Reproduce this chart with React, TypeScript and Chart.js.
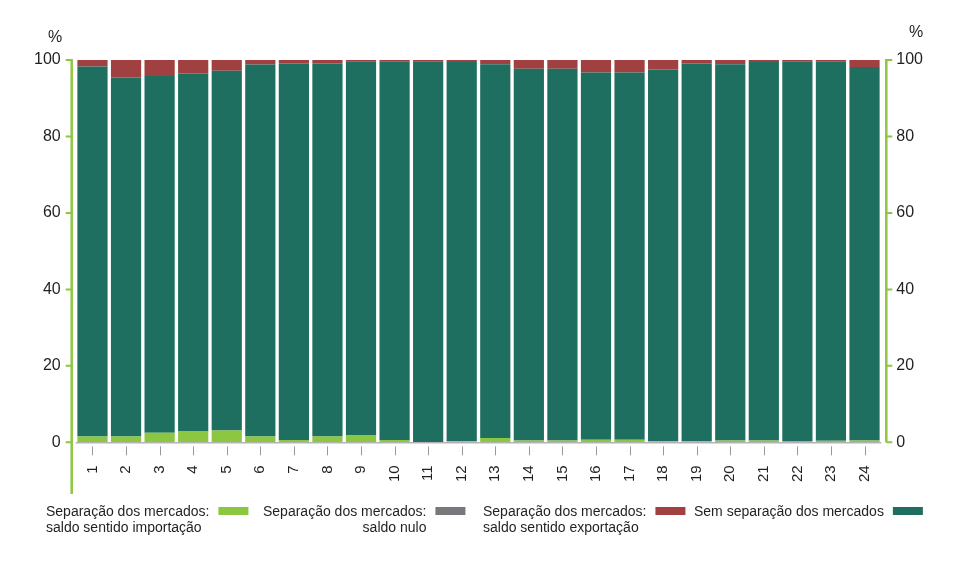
import React, { useEffect, useRef } from "react";
import { Chart, registerables } from "chart.js";
Chart.register(...registerables);

const categories = ["1","2","3","4","5","6","7","8","9","10","11","12","13","14","15","16","17","18","19","20","21","22","23","24"];
const importacao = [1.5,1.5,2.5,2.8,3.1,1.5,0.6,1.5,1.8,0.6,0,0.3,1.1,0.5,0.5,0.7,0.7,0.3,0.3,0.5,0.5,0.2,0.4,0.5];
const nulo = [0,0,0,0,0,0,0,0,0,0,0,0,0,0,0,0,0,0,0,0,0,0,0,0];
const semSeparacao = [96.8,93.9,93.3,93.7,94.1,97.3,98.5,97.6,97.9,99.1,99.7,99.2,97.8,97.2,97.2,96.0,96.0,97.2,98.8,98.4,99.0,99.5,99.3,97.7];
const exportacao = [1.7,4.6,4.2,3.5,2.8,1.2,0.9,0.9,0.3,0.3,0.3,0.5,1.1,2.3,2.3,3.3,3.3,2.5,0.9,1.1,0.5,0.3,0.3,1.8];
const yTicks = [0, 20, 40, 60, 80, 100];

const legendItems = [
  { lines: ["Separação dos mercados:", "saldo sentido importação"], align2: "left", color: "#8dc641" },
  { lines: ["Separação dos mercados:", "saldo nulo"], align2: "right", color: "#77787b" },
  { lines: ["Separação dos mercados:", "saldo sentido exportação"], align2: "left", color: "#a04040" },
  { lines: ["Sem separação dos mercados"], align2: "left", color: "#1f6f61" },
];

const FONT = "'Liberation Sans', Arial, sans-serif";
const TEXT = "#231f20";
const AXIS_GREEN = "#8dc63f";

export default function App() {
  const ref = useRef<HTMLCanvasElement | null>(null);
  useEffect(() => {
    if (!ref.current) return;
    const decor = {
      id: "decor",
      afterDatasetsDraw(chart: any) {
        const ctx = chart.ctx;
        const x = chart.scales.x;
        const y = chart.scales.y;
        const area = chart.chartArea;
        ctx.save();
        // baseline
        ctx.strokeStyle = "#b3b3b3";
        ctx.lineWidth = 1.5;
        ctx.beginPath();
        ctx.moveTo(area.left, y.getPixelForValue(0) + 0.5);
        ctx.lineTo(area.right, y.getPixelForValue(0) + 0.5);
        ctx.stroke();
        // x ticks
        ctx.strokeStyle = "#9a9a9a";
        ctx.lineWidth = 1;
        categories.forEach((_, i) => {
          const px = Math.round(x.getPixelForValue(i)) + 0.5;
          ctx.beginPath();
          ctx.moveTo(px, y.getPixelForValue(0) + 4);
          ctx.lineTo(px, y.getPixelForValue(0) + 13);
          ctx.stroke();
        });
        // axes lines
        const leftX = area.left - 4;
        const rightX = area.right + 5;
        const top = y.getPixelForValue(100);
        ctx.strokeStyle = AXIS_GREEN;
        ctx.lineWidth = 2.5;
        ctx.beginPath();
        ctx.moveTo(leftX, top - 1);
        ctx.lineTo(leftX, 494);
        ctx.moveTo(rightX, top - 1);
        ctx.lineTo(rightX, y.getPixelForValue(0));
        ctx.stroke();
        ctx.lineWidth = 2;
        yTicks.forEach((v) => {
          const py = y.getPixelForValue(v);
          ctx.beginPath();
          ctx.moveTo(leftX - 6, py);
          ctx.lineTo(leftX, py);
          ctx.moveTo(rightX, py);
          ctx.lineTo(rightX + 6, py);
          ctx.stroke();
        });
        // % labels
        ctx.fillStyle = TEXT;
        ctx.font = `16px ${FONT}`;
        ctx.textAlign = "left";
        ctx.textBaseline = "middle";
        ctx.fillText("%", 48, 38);
        ctx.fillText("%", 909, 33);
        // legend
        ctx.font = `14px ${FONT}`;
        ctx.textBaseline = "alphabetic";
        const starts = [46, 263, 483, 694];
        legendItems.forEach((it, i) => {
          const sx = starts[i];
          const w1 = ctx.measureText(it.lines[0]).width;
          ctx.fillStyle = TEXT;
          ctx.textAlign = "left";
          ctx.fillText(it.lines[0], sx, 516);
          if (it.lines[1]) {
            if (it.align2 === "right") {
              ctx.textAlign = "right";
              ctx.fillText(it.lines[1], sx + w1, 532);
            } else {
              ctx.textAlign = "left";
              ctx.fillText(it.lines[1], sx, 532);
            }
          }
          ctx.fillStyle = it.color;
          ctx.fillRect(sx + w1 + 9, 507, 30, 8);
        });
        ctx.restore();
      },
    };
    const tickFont = { family: FONT, size: 16 };
    const chart = new Chart(ref.current, {
      type: "bar",
      data: {
        labels: categories,
        datasets: [
          { label: "Separação dos mercados: saldo sentido importação", data: importacao, backgroundColor: "#8dc641" },
          { label: "Separação dos mercados: saldo nulo", data: nulo, backgroundColor: "#77787b" },
          { label: "Sem separação dos mercados", data: semSeparacao, backgroundColor: "#1f6f61" },
          { label: "Separação dos mercados: saldo sentido exportação", data: exportacao, backgroundColor: "#a04040" },
        ],
      },
      options: {
        animation: false,
        responsive: true,
        maintainAspectRatio: false,
        layout: { padding: { left: 19, right: 19, top: 60, bottom: 79 } },
        datasets: { bar: { barPercentage: 0.9, categoryPercentage: 1.0, borderWidth: 0 } },
        plugins: { legend: { display: false }, tooltip: { enabled: false } },
        scales: {
          x: {
            stacked: true,
            grid: { display: false, drawTicks: false },
            border: { display: false },
            ticks: { minRotation: 90, maxRotation: 90, padding: 23, font: { family: FONT, size: 15 }, color: TEXT },
          },
          y: {
            stacked: true,
            min: 0,
            max: 100,
            grid: { display: false, drawTicks: false },
            border: { display: false },
            ticks: { stepSize: 20, padding: 15, font: tickFont, color: TEXT },
          },
          y2: {
            position: "right",
            min: 0,
            max: 100,
            grid: { display: false, drawTicks: false },
            border: { display: false },
            ticks: { stepSize: 20, padding: 15, font: tickFont, color: TEXT },
          },
        },
      } as any,
      plugins: [decor],
    });
    return () => chart.destroy();
  }, []);
  return (
    <div style={{ position: "fixed", left: 0, top: 0, width: 957, height: 584, background: "#fff" }}>
      <canvas ref={ref} />
    </div>
  );
}
